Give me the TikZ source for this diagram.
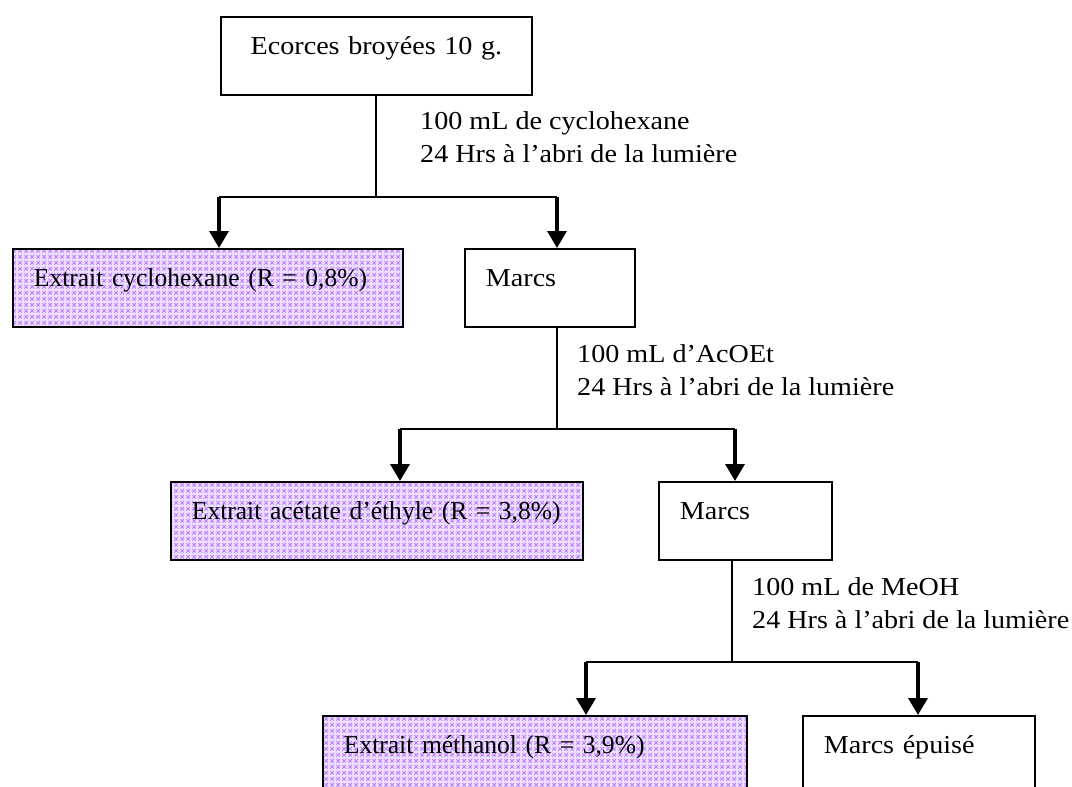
\documentclass[tikz,border=0pt]{standalone}
\usepackage{fontspec}
\setmainfont{Liberation Serif}[FakeStretch=1.09]
\newfontfamily\extrfont{Liberation Serif}[FakeStretch=0.99]
\usetikzlibrary{arrows.meta}
\usetikzlibrary{patterns}

\definecolor{lilac}{RGB}{186,120,255}
\definecolor{lilacbg}{RGB}{236,222,255}

% small x-marks for the extract boxes
\pgfdeclarepatternformonly{lilac cross}{\pgfqpoint{0pt}{0pt}}{\pgfqpoint{6pt}{6pt}}{\pgfqpoint{6pt}{6pt}}{%
  \pgfsetlinewidth{0.9pt}%
  \pgfpathmoveto{\pgfqpoint{0.5pt}{0.5pt}}\pgfpathlineto{\pgfqpoint{4.5pt}{4.5pt}}%
  \pgfpathmoveto{\pgfqpoint{0.5pt}{4.5pt}}\pgfpathlineto{\pgfqpoint{4.5pt}{0.5pt}}%
  \pgfusepath{stroke}}

\newcommand{\txtsize}{\fontsize{25.8}{33}\selectfont}

\begin{document}
\begin{tikzpicture}[x=1pt,y=-1pt,>={Triangle[width=19pt,length=17pt]},
    box/.style={draw,line width=1.8pt,anchor=north west,inner xsep=21pt,inner ysep=0pt,
      text height=38pt,text depth=40pt,align=left,font=\txtsize},
    extract/.style={box,font=\extrfont\txtsize,preaction={fill=lilacbg},
      pattern=lilac cross,pattern color=lilac},
    cond/.style={anchor=north west,inner sep=0pt,align=left,font=\txtsize},
    bar/.style={line width=2pt},
    drop/.style={line width=3.6pt,->}]
    \clip (0,0) rectangle (1072,787);
    \fill[white] (0,0) rectangle (1072,787);

    % boxes
    \node[box,text width=269pt,align=center] (ecorces) at (220,16) {Ecorces broyées 10 g.};
    \node[extract,text width=348pt] (extA) at (12,248) {Extrait cyclohexane (R = 0,8\%)};
    \node[box,text width=128pt] (marcsA) at (464,248) {Marcs};
    \node[extract,text width=370pt] (extB) at (170,481) {Extrait acétate d’éthyle (R = 3,8\%)};
    \node[box,text width=131pt] (marcsB) at (658,481) {Marcs};
    \node[extract,text width=382pt] (extC) at (322,715) {Extrait méthanol (R = 3,9\%)};
    \node[box,text width=190pt] (epuise) at (802,715) {Marcs épuisé};

    % conditions
    \node[cond] (cond1) at (420,111) {100 mL de cyclohexane\\24 Hrs à l’abri de la lumière};
    \node[cond] (cond2) at (577,344) {100 mL d’AcOEt\\24 Hrs à l’abri de la lumière};
    \node[cond] (cond3) at (752,577) {100 mL de MeOH\\24 Hrs à l’abri de la lumière};

    % branch points
    \coordinate (a1) at (219,197);
    \coordinate (b1) at (557,197);
    \coordinate (a2) at (400,429);
    \coordinate (b2) at (735,429);
    \coordinate (a3) at (586,662);
    \coordinate (b3) at (918,662);

    % first extraction
    \draw[bar] (ecorces.south) -- (ecorces.south |- a1);
    \draw[bar] (a1) -- (b1);
    \draw[drop] (a1) -- (a1 |- extA.north);
    \draw[drop] (b1) -- (b1 |- marcsA.north);

    % second extraction
    \draw[bar] (b1 |- marcsA.south) -- (b1 |- a2);
    \draw[bar] (a2) -- (b2);
    \draw[drop] (a2) -- (a2 |- extB.north);
    \draw[drop] (b2) -- (b2 |- marcsB.north);

    % third extraction
    \draw[bar] ([xshift=-3pt]b2 |- marcsB.south) -- ([xshift=-3pt]b2 |- a3);
    \draw[bar] (a3) -- (b3);
    \draw[drop] (a3) -- (a3 |- extC.north);
    \draw[drop] (b3) -- (b3 |- epuise.north);
\end{tikzpicture}
\end{document}
